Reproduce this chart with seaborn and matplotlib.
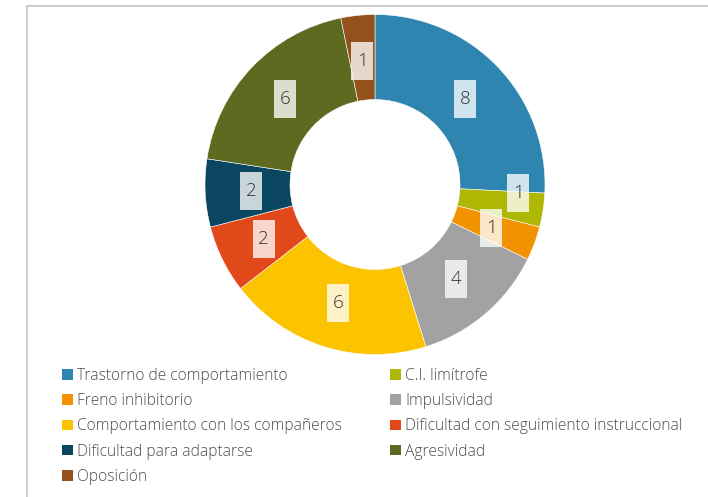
import matplotlib
matplotlib.use("Agg")
import matplotlib.pyplot as plt
from matplotlib.patches import Rectangle, Patch
from matplotlib.lines import Line2D
import numpy as np
import seaborn as sns

categories = [
    "Trastorno de comportamiento",
    "C.I. limítrofe",
    "Freno inhibitorio",
    "Impulsividad",
    "Comportamiento con los compañeros",
    "Dificultad con seguimiento instruccional",
    "Dificultad para adaptarse",
    "Agresividad",
    "Oposición",
]
counts = [8, 1, 1, 4, 6, 2, 2, 6, 1]
colors = [
    "#2E86B0", "#AEB804", "#F39200", "#A2A2A2", "#FCC300",
    "#E1491B", "#0A4660", "#5F6A21", "#93521C",
]

sns.set_theme(style="white")
plt.rcParams["font.family"] = ["Open Sans", "DejaVu Sans"]
text_color = "#4d4d4d"

W, H, DPI = 708, 497, 100
fig = plt.figure(figsize=(W / DPI, H / DPI), dpi=DPI)
fig.patch.set_facecolor("white")

# donut axes: centre (375, 184.5) px, outer radius 170 px
cx, cy, R = 375, 184.5, 170
ax = fig.add_axes([(cx - R) / W, (H - cy - R) / H, 2 * R / W, 2 * R / H])

palette = sns.color_palette(colors)
wedges, _ = ax.pie(
    counts, colors=palette, startangle=90, counterclock=False, radius=1.0,
    wedgeprops=dict(width=0.5, edgecolor="white", linewidth=0.4),
)
ax.set_xlim(-1, 1)
ax.set_ylim(-1, 1)
ax.set_aspect("equal")
ax.axis("off")

# value labels on the ring, in translucent boxes
label_r = 0.73
nudge = {1: (0.845, 5.5)}  # keep the two small adjacent slices' labels apart
box_w, box_h = 22 / R, 38 / R
for i, (w, v) in enumerate(zip(wedges, counts)):
    mid = 0.5 * (w.theta1 + w.theta2)
    r, dth = nudge.get(i, (label_r, 0.0))
    ang = np.deg2rad(mid + dth)
    x, y = r * np.cos(ang), r * np.sin(ang)
    ax.add_patch(Rectangle((x - box_w / 2, y - box_h / 2), box_w, box_h,
                           facecolor="white", alpha=0.78, edgecolor="none",
                           zorder=3))
    ax.text(x, y, str(v), ha="center", va="center", fontsize=13.5,
            fontweight="light", color="#333333", zorder=4)

# two-column legend, drawn as two aligned legends
def make_legend(idx, x_px):
    handles = [Patch(facecolor=colors[i], edgecolor="none") for i in idx]
    labels = [categories[i] for i in idx]
    leg = fig.legend(
        handles, labels, loc="upper left",
        bbox_to_anchor=(x_px / W, 1 - 368 / H), frameon=False,
        handlelength=0.68, handleheight=0.68, handletextpad=0.3,
        labelspacing=0.59, borderpad=0, borderaxespad=0,
        prop=dict(size=11.2, weight="light"),
    )
    for t in leg.get_texts():
        t.set_color(text_color)
    return leg

make_legend([0, 2, 4, 6, 8], 62)
make_legend([1, 3, 5, 7], 390)

# light frame on the top and left edges
fx, fy = 26.5 / W, 1 - 5.5 / H
fig.add_artist(Line2D([fx, fx], [0, fy], transform=fig.transFigure,
                      color="#c4c4c4", linewidth=1.2))
fig.add_artist(Line2D([fx, 1], [fy, fy], transform=fig.transFigure,
                      color="#c4c4c4", linewidth=1.2))

fig.savefig("out.png", dpi=DPI, facecolor="white")
